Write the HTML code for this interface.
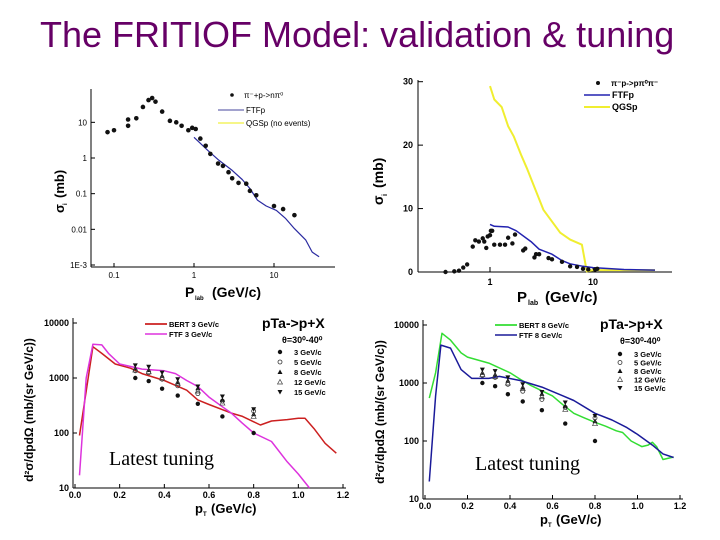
<!DOCTYPE html>
<html><head><meta charset="utf-8">
<style>
html,body{margin:0;padding:0;background:#fff;width:720px;height:540px;overflow:hidden}
svg{display:block;font-family:"Liberation Sans",sans-serif}
</style></head><body>
<svg id="s" width="720" height="540" viewBox="0 0 720 540">
<text x="40" y="47" font-size="36" fill="#660066">The FRITIOF Model: validation &amp; tuning</text>
</svg>
<script>
// ---- Chart 1 data (pi- p -> n pi0) ----
const c1PointsX=[0.083,0.1,0.15,0.15,0.19,0.23,0.27,0.3,0.33,0.4,0.5,0.6,0.7,0.85,0.95,1.05,1.2,1.4,1.6,2.0,2.3,2.7,3.0,3.6,4.5,5.0,6.0,10,13,18];
const c1PointsY=[5.3,6,12,8,13,27,42,48,38,20,11,10,8,6,7,6.5,3.5,2.2,1.3,0.7,0.6,0.4,0.27,0.2,0.19,0.12,0.09,0.045,0.037,0.025];
const c1FtfX=[1.0,1.5,2,3,4,5,6.2,8,10.7,14,18,25,30,36.6];
const c1FtfY=[3.8,1.6,0.9,0.45,0.25,0.14,0.066,0.045,0.034,0.02,0.0105,0.005,0.0023,0.0017];
const c1YTicks=[10,1,0.1,0.01,0.001];
const c1YLabels=["10","1","0.1","0.01","1E-3"];
const c1XTicks=[0.1,1,10];
const c1XLabels=["0.1","1","10"];
// ---- Chart 2 data (pi- p -> p pi0 pi-) ----
const c2PointsX=[0.37,0.45,0.5,0.55,0.6,0.68,0.72,0.78,0.85,0.88,0.92,0.95,1.0,1.02,1.05,1.1,1.25,1.4,1.5,1.65,1.75,2.1,2.2,2.7,2.8,3.0,3.7,4.0,5,6,7,8,9,10.5,11];
const c2PointsY=[0,0.1,0.2,0.7,1.2,4,5,4.8,5.3,4.8,3.8,5.6,5.8,6.5,6.5,4.3,4.3,4.3,5.4,4.5,5.9,3.4,3.7,2.3,2.8,2.8,2.2,2.0,1.6,0.9,0.8,0.5,0.4,0.4,0.5];
const c2QgsX=[1,1.1,1.3,1.5,1.7,2,2.3,3.3,4.8,6,7.8,8.7,10,20,40];
const c2QgsY=[29.3,27.2,26,23,21.4,18.5,16.2,9.8,6.2,5.1,4.3,0.1,0.3,0.3,0.3];
const c2FtfX=[1,1.1,1.5,1.8,2.5,3,4,5,6,8,10,20,40];
const c2FtfY=[7.5,7.2,7.1,6.5,4.8,3.6,2.8,1.8,1.3,0.9,0.7,0.4,0.3];
const c2YTicks=[0,10,20,30];
const c2XTicks=[1,10];
// ---- Chart 3/4 data (pTa -> p+X) ----
const ptX=[0.27,0.33,0.39,0.46,0.55,0.66,0.80];
const d3GeV=[1000,880,640,480,340,200,100];
const d5GeV=[1350,1250,950,720,520,380,250];
const d8GeV=[1500,1400,1100,850,650,400,220];
const d12GeV=[1400,1300,1000,800,580,350,200];
const d15GeV=[1700,1600,1250,950,700,460,270];
const c3BertX=[0.02,0.08,0.12,0.18,0.25,0.3,0.4,0.5,0.55,0.6,0.7,0.75,0.8,0.83,0.88,0.95,1.0,1.03,1.07,1.12,1.17];
const c3BertY=[90,3700,2800,1800,1500,1200,900,600,400,330,230,200,160,140,165,175,185,185,120,65,43];
const c3FtfX=[0.02,0.05,0.08,0.12,0.15,0.2,0.3,0.4,0.45,0.5,0.55,0.6,0.65,0.7,0.75,0.8,0.88,0.95,1.0,1.05];
const c3FtfY=[17,1000,4100,4000,2800,1800,1450,1350,1200,900,700,450,320,230,150,100,70,30,18,10];
const c4BertX=[0.02,0.05,0.08,0.12,0.17,0.2,0.3,0.4,0.45,0.5,0.6,0.65,0.7,0.75,0.8,0.85,0.9,0.93,0.97,1.02,1.05,1.07,1.09,1.12,1.17];
const c4BertY=[550,1500,7200,5500,3300,2800,2200,1500,1150,900,600,420,300,250,210,180,150,140,100,80,85,95,80,48,53];
const c4FtfX=[0.02,0.05,0.075,0.12,0.17,0.22,0.3,0.35,0.45,0.55,0.65,0.7,0.8,0.88,0.95,1.0,1.07,1.12,1.17];
const c4FtfY=[20,600,4500,4000,1700,1200,1200,1300,1100,850,600,500,300,230,170,130,85,60,52];
const logYTicks=[10000,1000,100,10];
const linXTicks=[0,0.2,0.4,0.6,0.8,1.0,1.2];

const S=document.getElementById('s');
const NS='http://www.w3.org/2000/svg';
function mk(tag,at,parent){const e=document.createElementNS(NS,tag);for(const k in at)e.setAttribute(k,at[k]);(parent||S).appendChild(e);return e;}
function logScale(v0,v1,p0,p1){return v=>p0+(Math.log10(v)-Math.log10(v0))/(Math.log10(v1)-Math.log10(v0))*(p1-p0);}
function linScale(v0,v1,p0,p1){return v=>p0+(v-v0)/(v1-v0)*(p1-p0);}
function line(g,xs,ys,sx,sy,col,w,name){
  const p=xs.map((x,i)=>(i?'L':'M')+sx(x).toFixed(1)+','+sy(ys[i]).toFixed(1)).join('');
  const e=mk('path',{d:p,fill:'none',stroke:col,'stroke-width':w,'stroke-linejoin':'round'},g);
  
  
}
function dots(g,xs,ys,sx,sy,r,name){
  xs.forEach((x,i)=>{const e=mk('circle',{cx:sx(x),cy:sy(Math.max(ys[i],1e-9)),r:r,fill:'#111'},g);
  
  });
}
function marker(g,type,x,y){
  let e;
  if(type==='dot')e=mk('circle',{cx:x,cy:y,r:2.2,fill:'#111'},g);
  else if(type==='ocirc')e=mk('circle',{cx:x,cy:y,r:2,fill:'none',stroke:'#333','stroke-width':0.8},g);
  else if(type==='tri')e=mk('path',{d:`M${x-2.5},${y+2}L${x+2.5},${y+2}L${x},${y-2.5}Z`,fill:'#111'},g);
  else if(type==='otri')e=mk('path',{d:`M${x-2.5},${y+2}L${x+2.5},${y+2}L${x},${y-2.5}Z`,fill:'none',stroke:'#444','stroke-width':0.7},g);
  else e=mk('path',{d:`M${x-2.5},${y-2}L${x+2.5},${y-2}L${x},${y+2.5}Z`,fill:'#111'},g);
  return e;
}
function txt(g,x,y,s,at){const e=mk('text',Object.assign({x:x,y:y},at||{}),g);e.textContent=s;return e;}
function axesFrame(g,x0,x1,y0,y1){
  mk('line',{x1:x0,y1:y0,x2:x0,y2:y1,stroke:'#000','stroke-width':1},g);
  mk('line',{x1:x0,y1:y1,x2:x1,y2:y1,stroke:'#000','stroke-width':1},g);
}

// ===== Chart 1 =====
(function(){
  const g=mk('g',{});
  const sx=logScale(1,10,194,274), sy=logScale(1,0.001,158,265);
  axesFrame(g,91,335,89,267);
  c1YTicks.forEach((v,i)=>{const y=sy(v);mk('line',{x1:91,x2:95,y1:y,y2:y,stroke:'#000'},g);
    const t=txt(g,87,y+3,c1YLabels[i],{'font-size':8,'text-anchor':'end'});});
  c1XTicks.forEach((v,i)=>{const x=sx(v);mk('line',{x1:x,x2:x,y1:267,y2:263,stroke:'#000'},g);
    const t=txt(g,x,278,c1XLabels[i],{'font-size':8,'text-anchor':'middle'});});
  line(g,c1FtfX,c1FtfY,sx,sy,'#2a2aa0',1.2,'ftfp-line');
  dots(g,c1PointsX,c1PointsY,sx,sy,2.3,'data-point');
  let t=txt(g,185,297,'P',{'font-size':14,'font-weight':'bold'});
  txt(g,195,300,'lab',{'font-size':6,'font-weight':'bold'});
  txt(g,212,297,'(GeV/c)',{'font-size':14,'font-weight':'bold'});
  t=txt(g,0,0,'σ',{'font-size':13,'font-weight':'bold',transform:'translate(64,213) rotate(-90)'});
  txt(g,0,0,'i',{'font-size':6,'font-weight':'bold',transform:'translate(67,205) rotate(-90)'});
  txt(g,0,0,'(mb)',{'font-size':13,'font-weight':'bold',transform:'translate(64,198) rotate(-90)'});
  const lg=mk('g',{},g);
  mk('circle',{cx:232,cy:95,r:1.8,fill:'#111'},lg);
  txt(lg,244,98,'π⁻+p->nπ⁰',{'font-size':8});
  mk('line',{x1:218,x2:244,y1:110,y2:110,stroke:'#6a6ab0','stroke-width':1.2},lg);
  txt(lg,246,113,'FTFp',{'font-size':8});
  mk('line',{x1:218,x2:244,y1:123,y2:123,stroke:'#f0f040','stroke-width':1.2},lg);
  txt(lg,246,126,'QGSp (no events)',{'font-size':8});
})();

// ===== Chart 2 =====
(function(){
  const g=mk('g',{});
  const sx=logScale(1,10,490,593), sy=linScale(0,30,272,81.7);
  axesFrame(g,418,672,80,272);
  c2YTicks.forEach(v=>{const y=sy(v);mk('line',{x1:418,x2:423,y1:y,y2:y,stroke:'#000'},g);
    const t=txt(g,413,y+3,String(v),{'font-size':9,'font-weight':'bold','text-anchor':'end'});});
  c2XTicks.forEach(v=>{const x=sx(v);mk('line',{x1:x,x2:x,y1:272,y2:267,stroke:'#000'},g);
    const t=txt(g,x,285,String(v),{'font-size':9,'font-weight':'bold','text-anchor':'middle'});});
  line(g,c2QgsX,c2QgsY,sx,sy,'#f0ee30',2,'qgsp-line');
  line(g,c2FtfX,c2FtfY,sx,sy,'#2222b0',1.5,'ftfp-line');
  dots(g,c2PointsX,c2PointsY,sx,sy,2.2,'data-point');
  let t=txt(g,517,302,'P',{'font-size':15,'font-weight':'bold'});
  txt(g,528,305,'lab',{'font-size':7,'font-weight':'bold'});
  txt(g,545,302,'(GeV/c)',{'font-size':15,'font-weight':'bold'});
  t=txt(g,0,0,'σ',{'font-size':14,'font-weight':'bold',transform:'translate(383,205) rotate(-90)'});
  txt(g,0,0,'i',{'font-size':7,'font-weight':'bold',transform:'translate(387,196) rotate(-90)'});
  txt(g,0,0,'(mb)',{'font-size':14,'font-weight':'bold',transform:'translate(383,188) rotate(-90)'});
  const lg=mk('g',{},g);
  mk('circle',{cx:598,cy:83,r:2,fill:'#111'},lg);
  txt(lg,611,86,'π⁻p->pπ⁰π⁻',{'font-size':8,'font-weight':'bold'});
  mk('line',{x1:584,x2:610,y1:95,y2:95,stroke:'#2222b0','stroke-width':1.5},lg);
  txt(lg,612,98,'FTFp',{'font-size':9,'font-weight':'bold'});
  mk('line',{x1:584,x2:610,y1:107,y2:107,stroke:'#f0ee30','stroke-width':2},lg);
  txt(lg,612,110,'QGSp',{'font-size':9,'font-weight':'bold'});
})();

// ===== Charts 3 & 4 =====
function ptChart(cfg){
  const g=mk('g',{});
  const sx=linScale(0,1.2,cfg.x0,cfg.x1), sy=logScale(10,10000,cfg.y10,cfg.y10k);
  axesFrame(g,cfg.ax,cfg.x1+3,cfg.y10k-5,cfg.y10);
  logYTicks.forEach(v=>{const y=sy(v);mk('line',{x1:cfg.ax,x2:cfg.ax+4,y1:y,y2:y,stroke:'#000'},g);
    const t=txt(g,cfg.ax-4,y+3,String(v),{'font-size':9,'font-weight':'bold','text-anchor':'end'});});
  linXTicks.forEach(v=>{const x=sx(v);mk('line',{x1:x,x2:x,y1:cfg.y10,y2:cfg.y10-4,stroke:'#000'},g);
    const t=txt(g,x,cfg.y10+10,v.toFixed(1),{'font-size':9,'font-weight':'bold','text-anchor':'middle'});});
  line(g,cfg.bx,cfg.by,sx,sy,cfg.bc,1.5,'bert-line');
  line(g,cfg.fx,cfg.fy,sx,sy,cfg.fc,1.5,'ftf-line');
  const sets=[[d3GeV,'dot'],[d5GeV,'ocirc'],[d8GeV,'tri'],[d12GeV,'otri'],[d15GeV,'itri']];
  sets.forEach(([arr,type])=>ptX.forEach((x,i)=>{const e=marker(g,type,sx(x),sy(arr[i]));
    
    }));
  let t=txt(g,cfg.xl,cfg.y10+25,'p',{'font-size':13,'font-weight':'bold'});
  txt(g,cfg.xl+8,cfg.y10+28,'T',{'font-size':6,'font-weight':'bold'});
  txt(g,cfg.xl+16,cfg.y10+25,'(GeV/c)',{'font-size':13,'font-weight':'bold'});
  t=txt(g,0,0,'d²σ/dpdΩ (mb/(sr GeV/c))',{'font-size':12,'font-weight':'bold','text-anchor':'middle',transform:`translate(${cfg.yl},${cfg.ylc}) rotate(-90)`});
  
  t=txt(g,cfg.tx,cfg.ty,'Latest tuning',{'font-size':20,'font-family':'Liberation Serif,serif'});
  const lg=mk('g',{},g);
  mk('line',{x1:cfg.lx,x2:cfg.lx+22,y1:cfg.ly,y2:cfg.ly,stroke:cfg.bc,'stroke-width':1.8},lg);
  txt(lg,cfg.lx+24,cfg.ly+3,cfg.bl,{'font-size':7.5,'font-weight':'bold'});
  mk('line',{x1:cfg.lx,x2:cfg.lx+22,y1:cfg.ly+10,y2:cfg.ly+10,stroke:cfg.fc,'stroke-width':1.5},lg);
  txt(lg,cfg.lx+24,cfg.ly+13,cfg.fl,{'font-size':7.5,'font-weight':'bold','xml:space':'preserve'});
  txt(lg,cfg.px,cfg.ly+4,'pTa->p+X',{'font-size':14,'font-weight':'bold'});
  txt(lg,cfg.px+20,cfg.ly+19,cfg.theta,{'font-size':9,'font-weight':'bold'});
  const labs=['3 GeV/c','5 GeV/c','8 GeV/c','12 GeV/c','15 GeV/c'];
  sets.forEach(([a,type],i)=>{const y=cfg.my+i*cfg.mdy;marker(lg,type,cfg.mx,y);txt(lg,cfg.mx+14,y+3,labs[i],{'font-size':7.5,'font-weight':'bold'});});
}
ptChart({name:'chart-pta-bert-ftf-3gev',x0:75,x1:343,ax:73,y10:488,y10k:323,bx:c3BertX,by:c3BertY,fx:c3FtfX,fy:c3FtfY,bc:'#cc2020',fc:'#dd33dd',
  xl:195,yl:33,ylc:410,tx:109,ty:465,lx:145,ly:324,bl:'BERT 3 GeV/c',fl:'FTF    3 GeV/c',px:262,theta:'θ=30⁰-40⁰',mx:280,my:352,mdy:10});
ptChart({name:'chart-pta-bert-ftf-8gev',x0:425,x1:680,ax:423,y10:499,y10k:325,bx:c4BertX,by:c4BertY,fx:c4FtfX,fy:c4FtfY,bc:'#33dd33',fc:'#1a1a99',
  xl:540,yl:384,ylc:412,tx:475,ty:470,lx:495,ly:325,bl:'BERT 8 GeV/c',fl:'FTF    8 GeV/c',px:600,theta:'θ=30⁰-40⁰',mx:620,my:354,mdy:8.5});
</script>
</body></html>
